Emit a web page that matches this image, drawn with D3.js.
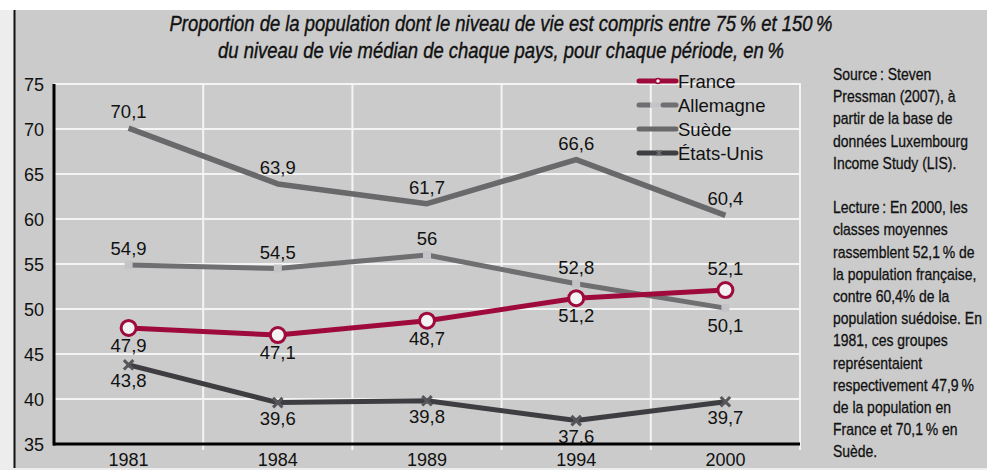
<!DOCTYPE html>
<html>
<head>
<meta charset="utf-8">
<script src="https://cdn.jsdelivr.net/npm/d3@7"></script>
<style>
	body { margin: 0; background: #ffffff; }
	svg { display: block; }
	text { font-family: 'Liberation Sans', Arial, sans-serif; fill: #111; }
</style>
</head>
<body>
<script>
// Data
const years = ['1981', '1984', '1989', '1994', '2000'];
const france = [47.9, 47.1, 48.7, 51.2, 52.1];
const allemagne = [54.9, 54.5, 56, 52.8, 50.1];
const suede = [70.1, 63.9, 61.7, 66.6, 60.4];
const etatsUnis = [43.8, 39.6, 39.8, 37.6, 39.7];
const yTicks = [35, 40, 45, 50, 55, 60, 65, 70, 75];
const seriesNames = ['France', 'Allemagne', 'Suède', 'États-Unis'];

const titleLines = [
	'Proportion de la population dont le niveau de vie est compris entre 75\u2009% et 150\u2009%',
	'du niveau de vie médian de chaque pays, pour chaque période, en\u2009%'
];
const noteLines = [
	'Source\u2009: Steven', 'Pressman (2007), à', 'partir de la base de', 'données Luxembourg', 'Income Study (LIS).',
	'',
	'Lecture\u2009: En 2000, les', 'classes moyennes', 'rassemblent 52,1\u2009% de', 'la population française,',
	'contre 60,4% de la', 'population suédoise. En', '1981, ces groupes', 'représentaient',
	'respectivement 47,9\u2009%', 'de la population en', 'France et 70,1\u2009% en', 'Suède.'
];

// Label placement: 1 = above the point, -1 = below
const labelSide = {
	'France': [-1, -1, -1, -1, 1],
	'Allemagne': [1, 1, 1, 1, -1],
	'Suède': [1, 1, 1, 1, 1],
	'États-Unis': [-1, -1, -1, -1, -1]
};

const W = 987, H = 470;
const svg = d3.select('body').append('svg').attr('width', W).attr('height', H);

// Background panel
svg.append('rect').attr('x', 0).attr('y', 0).attr('width', W).attr('height', H).attr('fill', '#ededed');
svg.append('rect').attr('x', 0).attr('y', 0).attr('width', W).attr('height', 10).attr('fill', '#ffffff');
svg.append('rect').attr('x', 14).attr('y', 10).attr('width', W - 14).attr('height', 458).attr('fill', '#cbcbcb');
svg.append('line').attr('x1', 14.5).attr('x2', 14.5).attr('y1', 10).attr('y2', 468)
	.attr('stroke', '#111').attr('stroke-width', 2);

// Scales
const x = d3.scaleBand().domain(years).range([54, 800]);
const cx = d => x(d) + x.bandwidth() / 2;
const y = d3.scaleLinear().domain([35, 75]).range([444, 84]);

// Grid
const grid = svg.append('g');
grid.selectAll('line.h')
	.data(yTicks.slice(1))
.join('line')
	.attr('x1', 54).attr('x2', 801)
	.attr('y1', d => y(d)).attr('y2', d => y(d))
	.attr('stroke', '#f4f4f4').attr('stroke-width', 2);
grid.selectAll('line.v')
	.data(years)
.join('line')
	.attr('x1', d => x(d) + x.bandwidth()).attr('x2', d => x(d) + x.bandwidth())
	.attr('y1', y(75)).attr('y2', 450)
	.attr('stroke', '#f4f4f4').attr('stroke-width', 2);

// Axes lines
svg.append('line').attr('x1', 54).attr('x2', 54).attr('y1', y(75)).attr('y2', y(35) + 1.5)
	.attr('stroke', '#000').attr('stroke-width', 3);
svg.append('line').attr('x1', 53).attr('x2', 800).attr('y1', y(35)).attr('y2', y(35))
	.attr('stroke', '#000').attr('stroke-width', 3);

// Tick labels
svg.append('g').selectAll('text')
	.data(yTicks)
.join('text')
	.attr('x', 44).attr('y', d => y(d) + 7)
	.attr('text-anchor', 'end')
	.style('font-size', '18px')
	.text(d => d);
svg.append('g').selectAll('text')
	.data(years)
.join('text')
	.attr('x', d => cx(d)).attr('y', 466)
	.attr('text-anchor', 'middle')
	.style('font-size', '18px')
	.text(d => d);

// Series
const series = [
	{ name: 'France', values: france, color: '#9e0a3c', width: 5 },
	{ name: 'Allemagne', values: allemagne, color: '#6f6f72', width: 5 },
	{ name: 'Suède', values: suede, color: '#69696b', width: 5.5 },
	{ name: 'États-Unis', values: etatsUnis, color: '#3e3e42', width: 5 }
];

const line = d3.line().x((d, i) => cx(years[i])).y(d => y(d));
const order = ['Suède', 'Allemagne', 'États-Unis', 'France'];
for (const name of order) {
	const s = series.find(d => d.name === name);
	svg.append('path')
		.datum(s.values)
		.attr('d', line)
		.attr('fill', 'none')
		.attr('stroke', s.color)
		.attr('stroke-width', s.width)
		.attr('stroke-linejoin', 'round');
	const g = svg.append('g');
	if (name === 'France') {
		g.selectAll('circle').data(s.values).join('circle')
			.attr('cx', (d, i) => cx(years[i])).attr('cy', d => y(d))
			.attr('r', 7.5)
			.attr('fill', '#f2f2f2').attr('stroke', s.color).attr('stroke-width', 3);
	}
	else if (name === 'Allemagne') {
		g.selectAll('rect').data(s.values).join('rect')
			.attr('x', (d, i) => cx(years[i]) - 4).attr('y', d => y(d) - 4)
			.attr('width', 8).attr('height', 8)
			.attr('fill', '#c4c4c8');
	}
	else if (name === 'États-Unis') {
		g.selectAll('path').data(s.values).join('path')
			.attr('transform', (d, i) => 'translate(' + cx(years[i]) + ',' + y(d) + ')')
			.attr('d', d3.symbol(d3.symbolX, 60))
			.attr('stroke', '#55555a').attr('stroke-width', 3);
	}
	// Value labels
	g.selectAll('text').data(s.values).join('text')
		.attr('x', (d, i) => cx(years[i]))
		.attr('y', (d, i) => {
			const side = labelSide[name][i];
			if (side > 0) return y(d) - (name === 'France' ? 15 : 10);
			return y(d) + (name === 'États-Unis' ? 22 : 24);
		})
		.attr('text-anchor', 'middle')
		.style('font-size', '18.5px')
		.text(d => String(d).replace('.', ','));
}

// Legend
const legend = svg.append('g').attr('transform', 'translate(637, 0)');
const legendY = [81, 105, 129, 153];
seriesNames.forEach((name, i) => {
	const s = series.find(d => d.name === name);
	const ly = legendY[i];
	if (name === 'Allemagne') {
		legend.append('line').attr('x1', 2).attr('x2', 13).attr('y1', ly).attr('y2', ly)
			.attr('stroke', s.color).attr('stroke-width', 5).attr('stroke-linecap', 'round');
		legend.append('line').attr('x1', 13).attr('x2', 23).attr('y1', ly).attr('y2', ly)
			.attr('stroke', '#c4c4c8').attr('stroke-width', 5);
		legend.append('line').attr('x1', 26).attr('x2', 39).attr('y1', ly).attr('y2', ly)
			.attr('stroke', s.color).attr('stroke-width', 5).attr('stroke-linecap', 'round');
	}
	else {
		legend.append('line').attr('x1', 2).attr('x2', 39).attr('y1', ly).attr('y2', ly)
			.attr('stroke', s.color).attr('stroke-width', 5).attr('stroke-linecap', 'round');
	}
	if (name === 'France') {
		legend.append('circle').attr('cx', 21).attr('cy', ly).attr('r', 2.5)
			.attr('fill', '#f2f2f2').attr('stroke', s.color).attr('stroke-width', 1.5);
	}
	if (name === 'États-Unis') {
		legend.append('path').attr('transform', 'translate(22,' + ly + ')')
			.attr('d', d3.symbol(d3.symbolX, 20))
			.attr('stroke', '#6a6a6e').attr('stroke-width', 2);
	}
	legend.append('text')
		.attr('x', 41).attr('y', ly + 7)
		.style('font-size', '18.5px')
		.text(name);
});

// Title (condensed italic)
const titleWidths = [663, 566];
svg.append('g').selectAll('text')
	.data(titleLines)
.join('text')
	.attr('x', 501).attr('y', (d, i) => 31 + i * 27)
	.attr('text-anchor', 'middle')
	.attr('textLength', (d, i) => titleWidths[i])
	.attr('lengthAdjust', 'spacingAndGlyphs')
	.style('font-size', '22px')
	.style('font-style', 'italic')
	.style('stroke', '#111').style('stroke-width', 0.4)
	.text(d => d);

// Notes (condensed)
const notes = svg.append('g');
const noteText = notes.selectAll('text')
	.data(noteLines)
.join('text')
	.attr('x', 0).attr('y', (d, i) => 80 + i * 22.2)
	.style('font-size', '16.5px')
	.style('stroke', '#111').style('stroke-width', 0.3)
	.text(d => d);
const refLine = noteText.filter(d => d.startsWith('respectivement')).node();
const squeeze = 141 / refLine.getComputedTextLength();
notes.attr('transform', 'translate(833,0) scale(' + squeeze + ',1)');
</script>
</body>
</html>
